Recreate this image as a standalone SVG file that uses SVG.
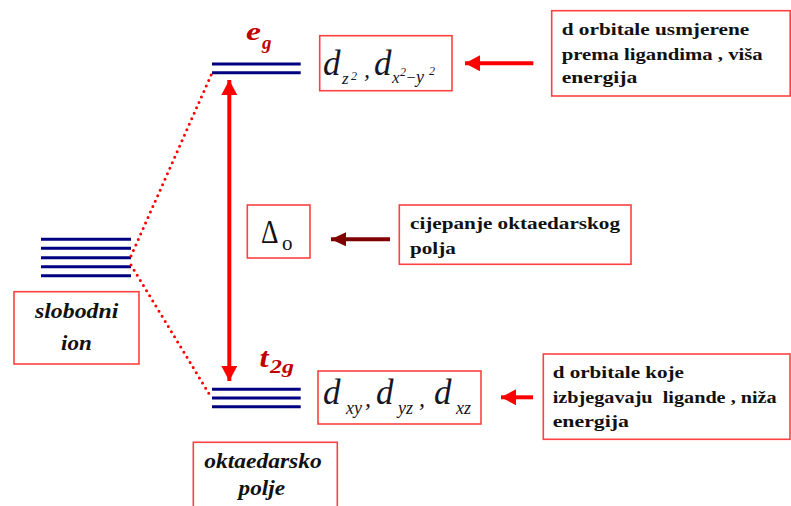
<svg xmlns="http://www.w3.org/2000/svg" width="791" height="506" viewBox="0 0 791 506">
<style>
.lvl{stroke:#000080;stroke-width:3;fill:none}
.box{fill:#fff;stroke:#ff4040;stroke-width:1.6}
.bt{font-family:"Liberation Serif","Times New Roman",serif;font-weight:bold;font-size:17px;fill:#111}
.bi{font-family:"Liberation Serif","Times New Roman",serif;font-weight:bold;font-style:italic;font-size:20px;fill:#111}
.m{font-family:"Liberation Serif","Times New Roman",serif;font-style:italic;fill:#151525}
.lab{font-family:"Liberation Serif","Times New Roman",serif;font-weight:bold;font-style:italic;fill:#c00000}
.dot{stroke:#ff0000;stroke-width:3;stroke-linecap:round;stroke-dasharray:0 6;fill:none}
.arr{stroke:#ff0000;stroke-width:4;fill:none}
</style>
<defs>
<marker id="ah" markerUnits="userSpaceOnUse" markerWidth="16" markerHeight="16" viewBox="0 0 16 16" refX="15" refY="8" orient="auto">
<path d="M0,0 L15,8 L0,16 Z" fill="#ff0000"/>
</marker>
<marker id="ahs" markerUnits="userSpaceOnUse" markerWidth="16" markerHeight="16" viewBox="0 0 16 16" refX="15" refY="8" orient="auto-start-reverse">
<path d="M0,0 L15,8 L0,16 Z" fill="#ff0000"/>
</marker>
<marker id="ahd" markerUnits="userSpaceOnUse" markerWidth="16" markerHeight="14" viewBox="0 0 16 14" refX="15" refY="7" orient="auto">
<path d="M0,0 L15,7 L0,14 Z" fill="#800000"/>
</marker>
</defs>

<g id="free-ion-levels">
<line class="lvl" x1="41" y1="239.3" x2="131" y2="239.3"/>
<line class="lvl" x1="41" y1="248.3" x2="131" y2="248.3"/>
<line class="lvl" x1="41" y1="257.7" x2="131" y2="257.7"/>
<line class="lvl" x1="41" y1="266.7" x2="131" y2="266.7"/>
<line class="lvl" x1="41" y1="275.7" x2="131" y2="275.7"/>
</g>

<g id="eg-levels">
<line class="lvl" x1="212" y1="64" x2="300.7" y2="64"/>
<line class="lvl" x1="212" y1="72.7" x2="300.7" y2="72.7"/>
<text class="lab" x="246" y="40" font-size="25" textLength="15" lengthAdjust="spacingAndGlyphs">e</text>
<text class="lab" x="262" y="49" font-size="18" textLength="9.5" lengthAdjust="spacingAndGlyphs">g</text>
</g>

<g id="t2g-levels">
<line class="lvl" x1="212" y1="389.3" x2="300.7" y2="389.3"/>
<line class="lvl" x1="212" y1="398" x2="300.7" y2="398"/>
<line class="lvl" x1="212" y1="406.7" x2="300.7" y2="406.7"/>
<text class="lab" x="259.5" y="366.7" font-size="27" textLength="9" lengthAdjust="spacingAndGlyphs">t</text>
<text class="lab" x="270" y="373.3" font-size="19" textLength="24" lengthAdjust="spacingAndGlyphs">2g</text>
</g>

<g id="connectors">
<line class="dot" x1="131" y1="256" x2="212" y2="73"/>
<line class="dot" x1="131" y1="265" x2="211" y2="397"/>
<line class="arr" x1="229.3" y1="80" x2="229.3" y2="381" marker-start="url(#ahs)" marker-end="url(#ah)"/>
<line class="arr" x1="533.3" y1="63.3" x2="465" y2="63.3" marker-end="url(#ah)"/>
<line class="arr" x1="533" y1="397.3" x2="501" y2="397.3" marker-end="url(#ah)"/>
<line stroke="#800000" stroke-width="4" x1="390" y1="239.3" x2="331" y2="239.3" marker-end="url(#ahd)"/>
</g>

<g id="slobodni-ion">
<rect class="box" x="14" y="291.7" width="125" height="72.3"/>
<text class="bi" x="35" y="318" textLength="83.3" lengthAdjust="spacingAndGlyphs">slobodni</text>
<text class="bi" x="61" y="350" textLength="30.7" lengthAdjust="spacingAndGlyphs">ion</text>
</g>

<g id="oktaedarsko-polje">
<rect class="box" x="193.3" y="442.3" width="144" height="70"/>
<text class="bi" x="204.3" y="468.3" textLength="117.4" lengthAdjust="spacingAndGlyphs">oktaedarsko</text>
<text class="bi" x="238.5" y="495" textLength="46.5" lengthAdjust="spacingAndGlyphs">polje</text>
</g>

<g id="eg-orbitals">
<rect class="box" x="319.7" y="35.7" width="132.3" height="55"/>
<text class="m" x="323" y="75" font-size="35">d</text>
<text class="m" x="342" y="83.5" font-size="17">z</text>
<text class="m" x="351" y="80" font-size="12" font-style="normal">2</text>
<text class="m" x="364" y="77" font-size="24">,</text>
<text class="m" x="374" y="75" font-size="35">d</text>
<text class="m" x="392" y="82.7" font-size="17">x</text>
<text class="m" x="400" y="76" font-size="12" font-style="normal">2</text>
<text class="m" x="405.5" y="83" font-size="16" font-style="normal">−</text>
<text class="m" x="416" y="82.7" font-size="18">y</text>
<text class="m" x="429" y="75" font-size="12" font-style="normal">2</text>
</g>

<g id="t2g-orbitals">
<rect class="box" x="318" y="371" width="163" height="53"/>
<text class="m" x="323" y="404" font-size="35">d</text>
<text class="m" x="346" y="413.5" font-size="18">xy</text>
<text class="m" x="365" y="406" font-size="24">,</text>
<text class="m" x="376" y="404" font-size="35">d</text>
<text class="m" x="398" y="413.5" font-size="18">yz</text>
<text class="m" x="419" y="406" font-size="24">,</text>
<text class="m" x="434" y="404" font-size="35">d</text>
<text class="m" x="456" y="413.5" font-size="18">xz</text>
</g>

<g id="delta-o">
<rect class="box" x="247.3" y="205" width="62.7" height="53"/>
<text x="261" y="243.3" font-family="Liberation Serif, serif" font-size="34" fill="#111" textLength="17.5" lengthAdjust="spacingAndGlyphs">Δ</text>
<text x="282" y="250" font-family="Liberation Serif, serif" font-size="21" fill="#111">o</text>
</g>

<g id="note-eg">
<rect class="box" x="551.7" y="10.7" width="238.5" height="85.3"/>
<text class="bt" x="561.7" y="35" textLength="187.5" lengthAdjust="spacingAndGlyphs">d orbitale usmjerene</text>
<text class="bt" x="561.7" y="59.5" textLength="201" lengthAdjust="spacingAndGlyphs">prema ligandima , viša</text>
<text class="bt" x="561.7" y="83" textLength="75.6" lengthAdjust="spacingAndGlyphs">energija</text>
</g>

<g id="note-delta">
<rect class="box" x="399.3" y="205" width="231.7" height="59.3"/>
<text class="bt" x="410" y="228.5" textLength="210" lengthAdjust="spacingAndGlyphs">cijepanje oktaedarskog</text>
<text class="bt" x="410" y="253.5" textLength="45.7" lengthAdjust="spacingAndGlyphs">polja</text>
</g>

<g id="note-t2g">
<rect class="box" x="543.3" y="354" width="246.7" height="85.3"/>
<text class="bt" x="552.7" y="377.5" textLength="131.3" lengthAdjust="spacingAndGlyphs">d orbitale koje</text>
<text class="bt" x="552.7" y="403" textLength="224" lengthAdjust="spacingAndGlyphs" style="white-space:pre">izbjegavaju  ligande , niža</text>
<text class="bt" x="552.7" y="427" textLength="76.3" lengthAdjust="spacingAndGlyphs">energija</text>
</g>
</svg>
